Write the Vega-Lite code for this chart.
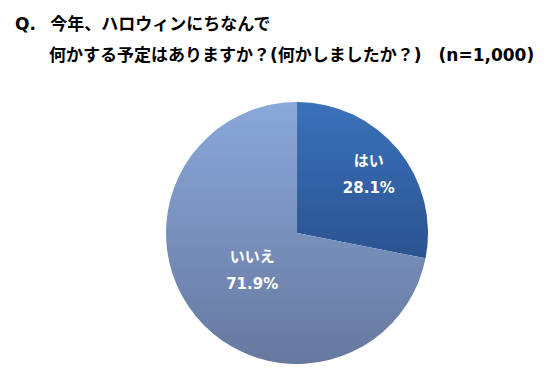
{
  "$schema": "https://vega.github.io/schema/vega-lite/v6.json",
  "autosize": "none",
  "width": 262,
  "height": 262,
  "padding": {"left": 166, "top": 102, "right": 129, "bottom": 21},
  "background": "white",
  "title": {
    "text": ["Q.\u2002 今年、ハロウィンにちなんで", "\u200b\u3000\u3000何かする予定はありますか？(何かしましたか？)\u3000(n=1,000)"],
    "anchor": "start",
    "frame": "group",
    "dx": -151,
    "offset": 37,
    "font": "DejaVu Sans, Noto Sans CJK JP",
    "fontSize": 17,
    "fontWeight": "bold",
    "lineHeight": 31,
    "color": "#000000"
  },
  "data": {
    "values": [
      {"answer": "はい", "value": 28.1, "label": "はい\n28.1%"},
      {"answer": "いいえ", "value": 71.9, "label": "いいえ\n71.9%"}
    ]
  },
  "transform": [
    {"stack": "value", "groupby": [], "as": ["v0", "v1"]}
  ],
  "config": {"view": {"stroke": null}},
  "layer": [
    {
      "transform": [{"filter": "datum.answer === 'はい'"}],
      "mark": {
        "type": "arc",
        "outerRadius": 131,
        "fill": {
          "gradient": "linear", "x1": 0, "y1": 0, "x2": 0, "y2": 1,
          "stops": [{"offset": 0, "color": "#3a72ba"}, {"offset": 1, "color": "#2b5391"}]
        }
      },
      "encoding": {
        "theta": {"field": "v0", "type": "quantitative", "scale": {"domain": [0, 100]}},
        "theta2": {"field": "v1"}
      }
    },
    {
      "transform": [{"filter": "datum.answer === 'いいえ'"}],
      "mark": {
        "type": "arc",
        "outerRadius": 131,
        "fill": {
          "gradient": "linear", "x1": 0, "y1": 0, "x2": 0, "y2": 1,
          "stops": [{"offset": 0, "color": "#8aa8db"}, {"offset": 1, "color": "#66789e"}]
        }
      },
      "encoding": {
        "theta": {"field": "v0", "type": "quantitative", "scale": {"domain": [0, 100]}},
        "theta2": {"field": "v1"}
      }
    },
    {
      "mark": {
        "type": "text",
        "radius": {"expr": "datum.answer === 'はい' ? 93 : 58"},
        "dy": -13,
        "lineBreak": "\n",
        "lineHeight": 27,
        "font": "DejaVu Sans, Noto Sans CJK JP",
        "fontSize": 15,
        "fontWeight": "bold",
        "fill": "white",
        "align": "center",
        "baseline": "middle"
      },
      "encoding": {
        "theta": {"field": "value", "type": "quantitative", "stack": true, "scale": {"domain": [0, 100]}},
        "order": {"field": "v0", "type": "quantitative"},
        "text": {"field": "label"}
      }
    }
  ]
}
